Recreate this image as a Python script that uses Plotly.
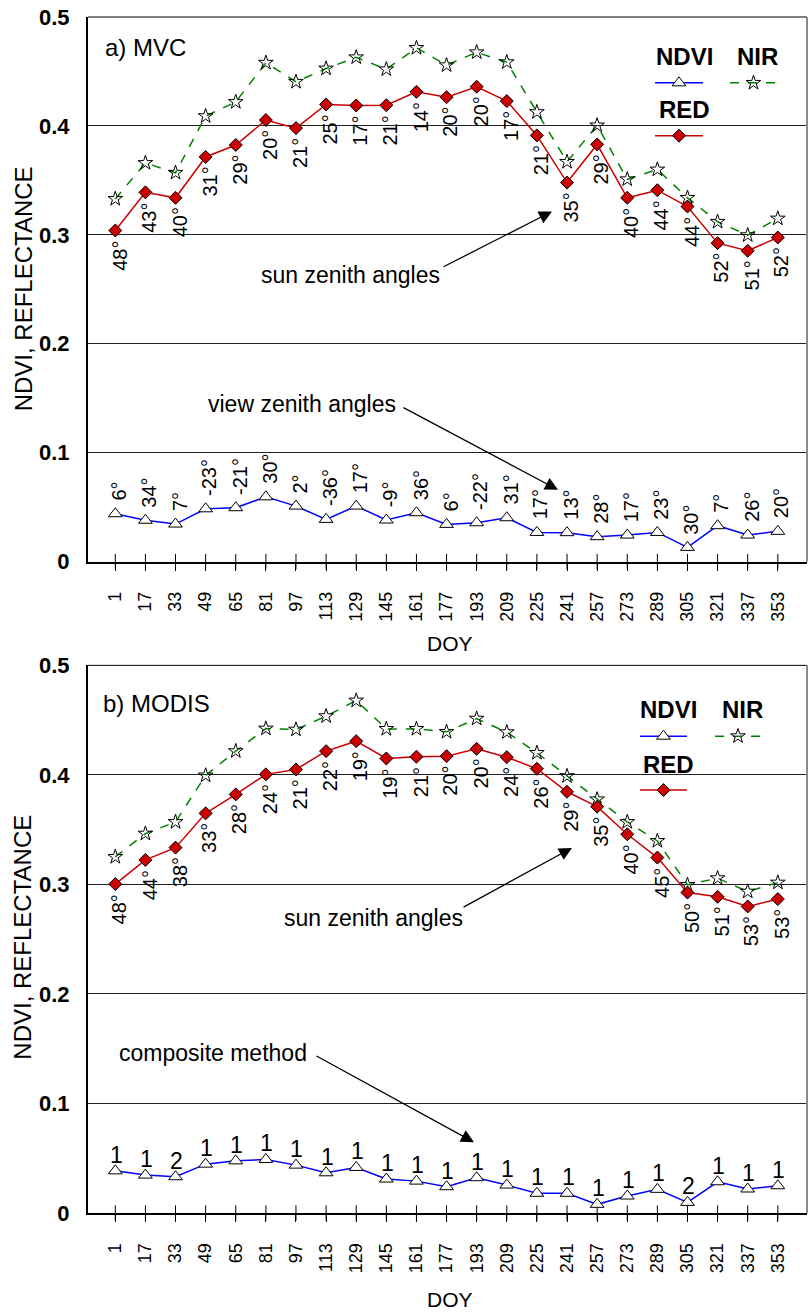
import plotly.graph_objects as go

# ---------------- data ----------------
doy = [1, 17, 33, 49, 65, 81, 97, 113, 129, 145, 161, 177, 193, 209, 225, 241,
       257, 273, 289, 305, 321, 337, 353]
tick_labels = [str(d) for d in doy]

# a) MVC
mvc_ndvi = [0.044, 0.038, 0.0345, 0.0485, 0.0495, 0.0595, 0.051, 0.0388, 0.051, 0.0382,
            0.0449, 0.0342, 0.0357, 0.0403, 0.0268, 0.0266, 0.0229, 0.0244, 0.0268,
            0.0131, 0.033, 0.0244, 0.0278]
mvc_red = [0.304, 0.339, 0.334, 0.3715, 0.3825, 0.4054, 0.398, 0.4197, 0.4188, 0.419,
           0.4313, 0.4264, 0.436, 0.4228, 0.3913, 0.348, 0.383, 0.334, 0.341, 0.326,
           0.2924, 0.2854, 0.2976]
mvc_nir = [0.333, 0.366, 0.357, 0.409, 0.422, 0.458, 0.4405, 0.4527, 0.463, 0.452,
           0.4716, 0.4557, 0.4676, 0.4585, 0.4127, 0.367, 0.4005, 0.351, 0.360, 0.334,
           0.312, 0.2997, 0.315]
mvc_sza = [48, 43, 40, 31, 29, 20, 21, 25, 17, 21, 14, 20, 20, 17, 21, 35, 29, 40, 44,
           44, 52, 51, 52]
mvc_vza = [6, 34, 7, -23, -21, 30, 2, -36, 17, -9, 36, 6, -22, 31, 17, 13, 28, 17, 23,
           30, 7, 26, 20]

# b) MODIS
modis_ndvi = [0.0385, 0.0346, 0.0331, 0.0446, 0.0476, 0.0489, 0.0437, 0.0367, 0.0416,
              0.031, 0.0291, 0.024, 0.0322, 0.0255, 0.018, 0.018, 0.0079, 0.0155,
              0.0216, 0.0097, 0.0285, 0.0219, 0.0249]
modis_red = [0.3003, 0.3224, 0.3336, 0.3649, 0.3822, 0.4005, 0.405, 0.4217, 0.4308,
             0.415, 0.4166, 0.4171, 0.4238, 0.4162, 0.4056, 0.3846, 0.371, 0.3458,
             0.3245, 0.2926, 0.2887, 0.2799, 0.2866]
modis_nir = [0.3251, 0.3464, 0.357, 0.3995, 0.4217, 0.4423, 0.4414, 0.4536, 0.4679,
             0.442, 0.442, 0.4393, 0.4514, 0.439, 0.4201, 0.3989, 0.3777, 0.357,
             0.3397, 0.2996, 0.3057, 0.2935, 0.3017]
modis_sza = [48, 44, 38, 33, 28, 24, 21, 22, 19, 19, 21, 20, 20, 24, 26, 29, 35, 40, 45,
             50, 51, 53, 53]
modis_method = [1, 1, 2, 1, 1, 1, 1, 1, 1, 1, 1, 1, 1, 1, 1, 1, 1, 1, 1, 2, 1, 1, 1]

# ---------------- layout constants ----------------
W, H = 812, 1315
ML, MR, MT, MB = 88, 5, 14, 102
PW = W - ML - MR
PH = H - MT - MB
XR = [-13.5, 368.5]
YR = [0, 0.5]
TOP_PX = (14, 560)      # pixel top/bottom of panel a
BOT_PX = (664, 1213)    # pixel top/bottom of panel b

FONT = "Arial, Liberation Sans, sans-serif"
RED_C = "#CC0000"
BLUE_C = "#0000FF"
GREEN_C = "#008000"


def pyp(py):
    return (H - MB - py) / PH


def pxp(px):
    return (px - ML) / PW


def px2x(px):
    return XR[0] + (px - ML) / PW * (XR[1] - XR[0])


def py2y(py, panel):
    t, b = panel
    return YR[0] + (b - py) / (b - t) * (YR[1] - YR[0])


fig = go.Figure()

panels = [
    dict(xa="x", ya="y", ndvi=mvc_ndvi, red=mvc_red, nir=mvc_nir, px=TOP_PX,
         leg=dict(ndvi=(684, 53.5), nir=(757, 53.5), red=(684, 106.5),
                  ndvi_line=(655, 703, 80), nir_line=(730, 777, 80), red_line=(655, 703, 133))),
    dict(xa="x2", ya="y2", ndvi=modis_ndvi, red=modis_red, nir=modis_nir, px=BOT_PX,
         leg=dict(ndvi=(668, 708), nir=(742, 708), red=(668, 763),
                  ndvi_line=(640, 687, 735), nir_line=(715, 761, 735), red_line=(640, 687, 789))),
]

nir_marker = dict(symbol="star-open", size=11, color="black", line=dict(color="black", width=1))
red_marker = dict(symbol="diamond", size=10, color=RED_C, line=dict(color="black", width=1))
ndvi_marker = dict(symbol="triangle-up", size=12, color="white", line=dict(color="black", width=1))

for p in panels:
    xa, ya = p["xa"], p["ya"]
    # tick marks crossing the axis
    fig.add_trace(go.Scatter(x=doy, y=[0] * len(doy), mode="markers", xaxis=xa, yaxis=ya,
                             marker=dict(symbol="line-ns", size=11, line=dict(color="black", width=1)),
                             cliponaxis=False, hoverinfo="skip", showlegend=False))
    fig.add_trace(go.Scatter(x=doy, y=p["nir"], mode="lines+markers", xaxis=xa, yaxis=ya,
                             line=dict(color=GREEN_C, width=1.5, dash="dash"),
                             marker=nir_marker, showlegend=False, cliponaxis=False))
    fig.add_trace(go.Scatter(x=doy, y=p["red"], mode="lines+markers", xaxis=xa, yaxis=ya,
                             line=dict(color=RED_C, width=1.5),
                             marker=red_marker, showlegend=False, cliponaxis=False))
    fig.add_trace(go.Scatter(x=doy, y=p["ndvi"], mode="lines+markers", xaxis=xa, yaxis=ya,
                             line=dict(color=BLUE_C, width=1.5),
                             marker=ndvi_marker, showlegend=False, cliponaxis=False))
    # custom legend keys
    L = p["leg"]
    for key, col, dash, mk in [("ndvi_line", BLUE_C, "solid", ndvi_marker),
                               ("nir_line", GREEN_C, "dash", nir_marker),
                               ("red_line", RED_C, "solid", red_marker)]:
        x0, x1, yy = L[key]
        fig.add_trace(go.Scatter(x=[px2x(x0), px2x(x1)], y=[py2y(yy, p["px"])] * 2,
                                 mode="lines", xaxis=xa, yaxis=ya,
                                 line=dict(color=col, width=1.5, dash=dash),
                                 showlegend=False, hoverinfo="skip"))
        fig.add_trace(go.Scatter(x=[px2x((x0 + x1) / 2)], y=[py2y(yy, p["px"])],
                                 mode="markers", xaxis=xa, yaxis=ya, marker=mk,
                                 showlegend=False, hoverinfo="skip"))

ann = []
# angle labels
for i, d in enumerate(doy):
    ann.append(dict(x=d, y=mvc_red[i], xref="x", yref="y", text=f"{mvc_sza[i]}°",
                    textangle=-90, yanchor="top", xanchor="center", yshift=-8, xshift=4,
                    showarrow=False, font=dict(size=20, family=FONT, color="black")))
    ann.append(dict(x=d, y=mvc_ndvi[i], xref="x", yref="y", text=f"{mvc_vza[i]}°",
                    textangle=-90, yanchor="bottom", xanchor="center", yshift=11, xshift=4,
                    showarrow=False, font=dict(size=20, family=FONT, color="black")))
    ann.append(dict(x=d, y=modis_red[i], xref="x2", yref="y2", text=f"{modis_sza[i]}°",
                    textangle=-90, yanchor="top", xanchor="center", yshift=-8, xshift=4,
                    showarrow=False, font=dict(size=20, family=FONT, color="black")))
    ann.append(dict(x=d, y=modis_ndvi[i], xref="x2", yref="y2", text=f"{modis_method[i]}",
                    yanchor="bottom", xanchor="center", yshift=1, xshift=1,
                    showarrow=False, font=dict(size=23, family=FONT, color="black")))


def txt(px, py, s, size, bold=False, angle=0):
    return dict(x=pxp(px), y=pyp(py), xref="paper", yref="paper", text=s, showarrow=False,
                textangle=angle, xanchor="center", yanchor="middle",
                font=dict(size=size, family=FONT, color="black", weight="bold" if bold else "normal"))


def arrow(tail, head):
    return dict(x=pxp(head[0]), y=pyp(head[1]), xref="paper", yref="paper", text="",
                showarrow=True, ax=tail[0] - head[0], ay=tail[1] - head[1],
                arrowhead=2, arrowsize=2.0, arrowwidth=1.3, arrowcolor="black", standoff=0)


ann += [
    txt(23, 287, "NDVI, REFLECTANCE", 24, angle=-90),
    txt(23, 937, "NDVI, REFLECTANCE", 24, angle=-90),
    txt(450, 642, "DOY", 21),
    txt(450, 1300, "DOY", 21),
    txt(145, 45, "a) MVC", 24),
    txt(156, 702, "b) MODIS", 24),
    txt(350, 273, "sun zenith angles", 23),
    txt(302, 402, "view zenith angles", 23),
    txt(373, 917, "sun zenith angles", 23),
    txt(213, 1053, "composite method", 23),
    arrow((442, 265), (552, 209)),
    arrow((402, 405), (558, 488)),
    arrow((462, 907), (572, 847)),
    arrow((315, 1055), (474, 1142)),
]
for p in panels:
    L = p["leg"]
    ann += [txt(*L["ndvi"], "NDVI", 24, bold=True),
            txt(*L["nir"], "NIR", 24, bold=True),
            txt(*L["red"], "RED", 24, bold=True)]

shapes = []
for xa, ya in [("x", "y"), ("x2", "y2")]:
    shapes.append(dict(type="line", xref=f"{xa} domain", yref=f"{ya} domain",
                       x0=0, x1=1, y0=1, y1=1, line=dict(color="black", width=1)))
    shapes.append(dict(type="line", xref=f"{xa} domain", yref=f"{ya} domain",
                       x0=1, x1=1, y0=0, y1=1, line=dict(color="#8a8a8a", width=2)))

xcommon = dict(range=XR, tickmode="array", tickvals=doy, ticktext=tick_labels, tickangle=-90,
               tickfont=dict(size=18, family=FONT, color="black"), ticks="outside", ticklen=7,
               tickcolor="black", showline=True, linecolor="black", linewidth=2,
               showgrid=False, zeroline=False, ticklabelstandoff=14)
ycommon = dict(range=YR, tickmode="array", tickvals=[0, 0.1, 0.2, 0.3, 0.4, 0.5],
               ticktext=["0", "0.1", "0.2", "0.3", "0.4", "0.5"],
               tickfont=dict(size=22, family=FONT, color="black", weight="bold"),
               ticks="", showgrid=True, gridcolor="#222222", gridwidth=1,
               showline=True, linecolor="black", linewidth=2, zeroline=False,
               ticklabelstandoff=12)

fig.update_layout(
    width=W, height=H, margin=dict(l=ML, r=MR, t=MT, b=MB),
    paper_bgcolor="white", plot_bgcolor="white",
    showlegend=False,
    xaxis=dict(domain=[0, 1], anchor="y", **xcommon),
    yaxis=dict(domain=[pyp(TOP_PX[1]), pyp(TOP_PX[0])], anchor="x", **ycommon),
    xaxis2=dict(domain=[0, 1], anchor="y2", **xcommon),
    yaxis2=dict(domain=[pyp(BOT_PX[1]), pyp(BOT_PX[0])], anchor="x2", **ycommon),
    annotations=ann, shapes=shapes,
    font=dict(family=FONT, color="black"),
)

fig.write_html(
    "out.html",
    config={"displayModeBar": False},
    post_script="document.body.style.margin='0';document.body.style.overflow='hidden';"
                "document.documentElement.style.overflow='hidden';",
)
